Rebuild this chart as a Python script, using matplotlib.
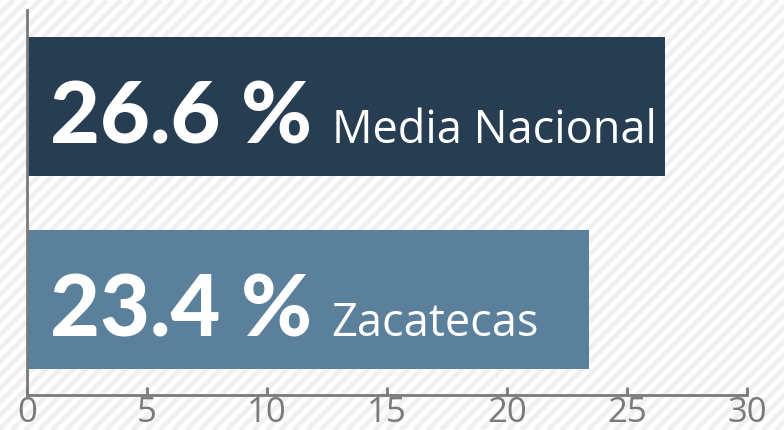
import matplotlib
matplotlib.use("Agg")
import matplotlib.pyplot as plt
import numpy as np

# data
categories = ["Media Nacional", "Zacatecas"]
values = [26.6, 23.4]
value_labels = ["26.6 %", "23.4 %"]
bar_colors = ["#263d52", "#5b809c"]
ticks = [0, 5, 10, 15, 20, 25, 30]

W, H, DPI = 784, 430, 100
fig = plt.figure(figsize=(W / DPI, H / DPI), dpi=DPI)

# striped background in pixel units
bg = fig.add_axes([0, 0, 1, 1])
bg.set_xlim(0, W)
bg.set_ylim(0, H)
bg.axis("off")
step = 13.4
for c in np.arange(-H, W + H, step):
    bg.plot([c, c + H], [0, H], color="#f0f0f0", lw=3.4, solid_capstyle="butt")

ax = fig.add_axes([27 / W, 35 / H, 720 / W, 385 / H])
ax.patch.set_alpha(0)

ypos = np.arange(len(categories))
ax.barh(ypos, values, height=0.72, color=bar_colors, zorder=2)

ax.set_xlim(0, 30)
ax.set_ylim(1.495, -0.5)
ax.set_xticks(ticks)
ax.set_xticklabels([str(t) for t in ticks], fontsize=25, color="#7a7a7a",
                   family=["Open Sans", "DejaVu Sans"])
ax.tick_params(axis="x", direction="in", length=6, width=2, color="#7a7a7a", pad=1)
ax.set_yticks([])
for s in ["top", "right"]:
    ax.spines[s].set_visible(False)
for s in ["left", "bottom"]:
    ax.spines[s].set_color("#7a7a7a")
    ax.spines[s].set_linewidth(2)

for y, lab, cat in zip(ypos, value_labels, categories):
    base = y + 0.19
    t = ax.text(0.96, base, lab, color="white", fontsize=62, fontweight="black",
                family=["Lato", "DejaVu Sans"], va="baseline", ha="left", zorder=3)
    ax.annotate(cat, xy=(1, base), xycoords=(t, "data"), xytext=(14, 0),
                textcoords="offset points", color="white", fontsize=32.5,
                family=["Open Sans", "DejaVu Sans"], va="baseline", ha="left", zorder=3)

fig.savefig("out.png", dpi=DPI)
